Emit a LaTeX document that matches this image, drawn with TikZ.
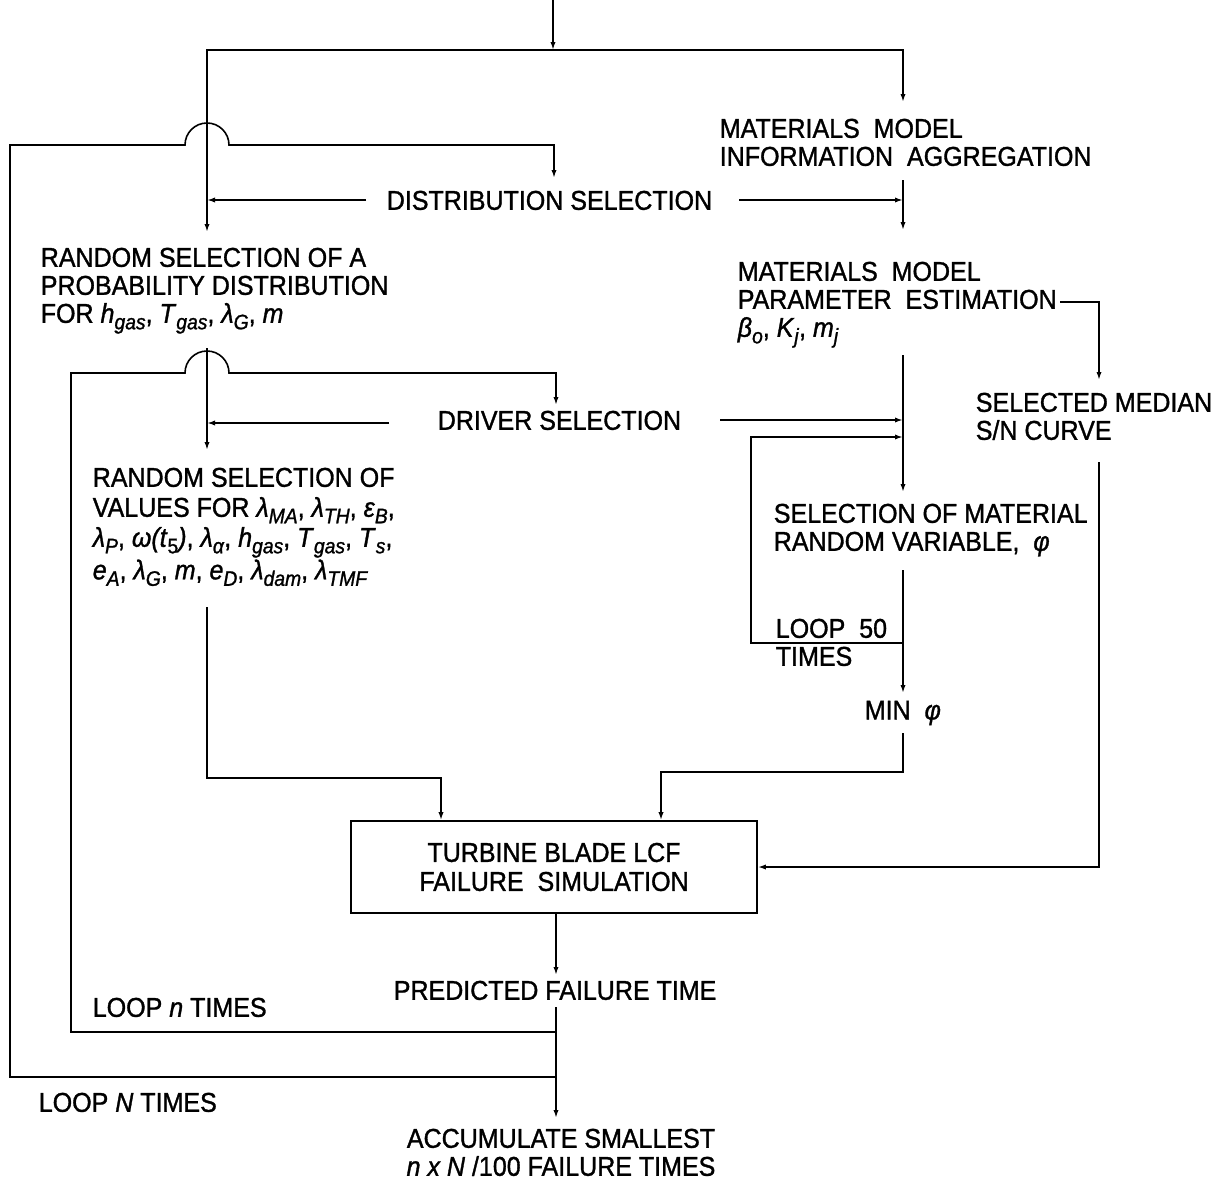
\documentclass[tikz,border=0pt]{standalone}
\usepackage{fontspec}
\setmainfont[FakeStretch=0.92, FakeBold=1.2]{Liberation Sans}
\usetikzlibrary{arrows.meta}
\newcommand{\varsb}[2]{\textit{#1}\raisebox{-0.45ex}{\fontsize{10.5}{10}\selectfont\textit{#2}}}

\begin{document}
\begin{tikzpicture}[x=0.5pt, y=-0.5pt, line width=0.8pt,
    lbl/.style={inner sep=0pt, anchor=north west, align=left, font=\fontsize{13.6}{14}\selectfont},
    box/.style={draw, rectangle, minimum width=203pt, minimum height=46pt, align=center, inner sep=0pt, font=\fontsize{13.6}{14.5}\selectfont},
    flow/.style={-{Latex[length=4pt,width=2.6pt]}}]
\useasboundingbox (0,0) rectangle (1231,1183);
\node[lbl] (info) at (719,118) {MATERIALS\ \ MODEL\\INFORMATION\ \ AGGREGATION};
\node[lbl] (distsel) at (386,190) {DISTRIBUTION SELECTION};
\node[lbl] (randA) at (40,247) {RANDOM SELECTION OF A\\PROBABILITY DISTRIBUTION\\FOR \varsb{h}{gas}, \varsb{T}{gas}, \varsb{λ}{G}, \textit{m}};
\node[lbl] (param) at (737,261) {MATERIALS\ \ MODEL\\PARAMETER\ \ ESTIMATION\\\varsb{β}{o}, \varsb{K}{j}, \varsb{m}{j}};
\node[lbl] (drvsel) at (437,410) {DRIVER SELECTION};
\node[lbl] (median) at (975,392) {SELECTED MEDIAN\\S/N CURVE};
\node[lbl, font=\fontsize{13.6}{15}\selectfont] (randV) at (92,467) {RANDOM SELECTION OF\\VALUES FOR \varsb{λ}{MA}, \varsb{λ}{TH}, \varsb{ε}{B},\\\varsb{λ}{P}, \textit{ω(t}\raisebox{-0.45ex}{\fontsize{10.5}{10}\selectfont 5}\textit{)}, \varsb{λ}{α}, \varsb{h}{gas}, \varsb{T}{gas}, \varsb{T}{s},\\\varsb{e}{A}, \varsb{λ}{G}, \textit{m}, \varsb{e}{D}, \varsb{λ}{dam}, \varsb{λ}{TMF}};
\node[lbl] (matsel) at (773,503) {SELECTION OF MATERIAL\\RANDOM VARIABLE,\ \ \textit{φ}};
\node[lbl] (loopfifty) at (775,618) {LOOP\ \ 50\\TIMES};
\node[lbl] (minphi) at (864,700) {MIN\ \ \textit{φ}};
\node[box] (sim) at (554,867) {TURBINE BLADE LCF\\FAILURE\ \ SIMULATION};
\node[lbl] (pred) at (393,980) {PREDICTED FAILURE TIME};
\node[lbl] (loopsmall) at (92,997) {LOOP \textit{n} TIMES};
\node[lbl] (loopbig) at (38,1092) {LOOP \textit{N} TIMES};
\node[lbl, anchor=north, align=center] (acc) at (561,1128) {ACCUMULATE SMALLEST\\\textit{n x N} /100 FAILURE TIMES};
\coordinate (in) at (553,0);
\coordinate (split) at (553,50);
\coordinate (infoin) at (903,102);
\coordinate (infoout) at (903,180);
\coordinate (paramin) at (903,230);
\coordinate (paramout) at (903,355);
\coordinate (paramside) at (1060,302);
\coordinate (medianin) at (1099,380);
\coordinate (medianout) at (1099,462);
\coordinate (randAin) at (207,232);
\coordinate (randAout) at (207,348);
\coordinate (distin) at (554,178);
\coordinate (distL) at (366,200);
\coordinate (distR) at (739,200);
\coordinate (drvin) at (556,405);
\coordinate (drvL) at (389,423);
\coordinate (drvR) at (720,420);
\coordinate (randVin) at (207,450);
\coordinate (randVout) at (207,607);
\coordinate (matin) at (903,492);
\coordinate (matout) at (903,570);
\coordinate (loopfive) at (903,643);
\coordinate (minin) at (903,693);
\coordinate (minout) at (903,733);
\coordinate (predin) at (556,975);
\coordinate (predout) at (556,1007);
\coordinate (loopn) at (556,1032);
\coordinate (loopN) at (556,1077);
\coordinate (accin) at (556,1118);
\draw[flow] (in) -- (split);
\draw[flow] (split) -| (randAin);
\draw[flow] (split) -| (infoin);
\draw[flow] (infoout) -- (paramin);
\draw[flow] (distL) -- (randAin |- distL);
\draw[flow] (distR) -- (infoout |- distR);
\draw[flow] (loopN) -| (10,145) -- (185,145) arc[start angle=180, end angle=0, radius=11pt] -| (distin);
\draw[flow] (paramside) -| (medianin);
\draw[flow] (medianout) |- (sim.east);
\draw[flow] (paramout) -- (matin);
\draw[flow] (drvL) -- (randVin |- drvL);
\draw[flow] (drvR) -- (matin |- drvR);
\draw[flow] (loopfive) -| (751,437) -- (matin |- 751,437);
\draw[flow] (matout) -- (minin);
\draw[flow] (minout) |- (661,772) -- (sim.north -| 661,772);
\draw[flow] (randAout) -- (randVin);
\draw[flow] (loopn) -| (71,373) -- (185,373) arc[start angle=180, end angle=0, radius=11pt] -| (drvin);
\draw[flow] (randVout) |- (441,778) -- (sim.north -| 441,778);
\draw[flow] (sim.south -| predin) -- (predin);
\draw[flow] (predout) -- (accin);
\end{tikzpicture}
\end{document}
